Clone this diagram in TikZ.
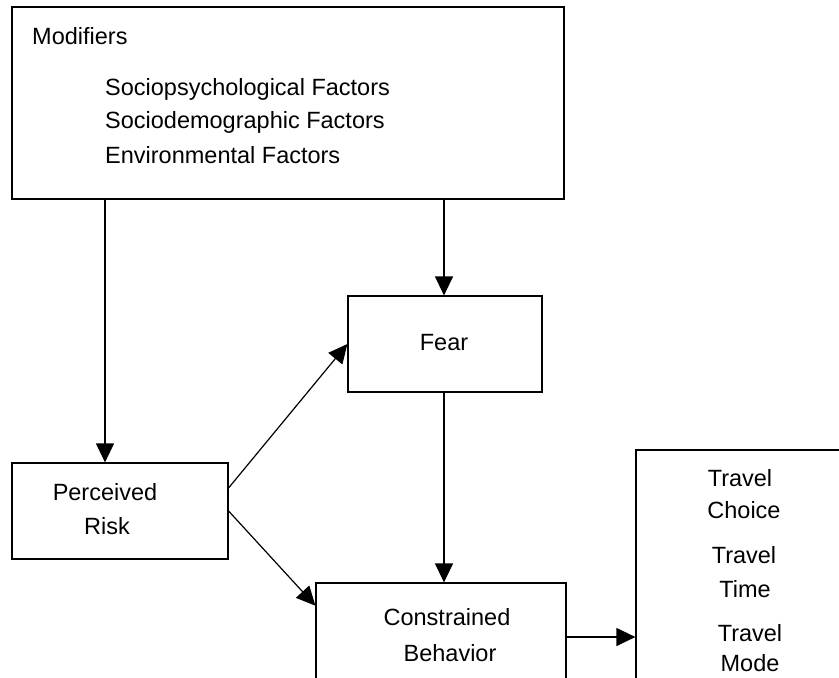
\documentclass[tikz,border=0pt]{standalone}
\usepackage{fontspec}
\setmainfont{Liberation Sans}
\usetikzlibrary{arrows.meta}
\tikzset{box/.style={draw,line width=1.2pt,inner sep=0pt},
  words/.style={font=\fontsize{23.5}{34}\selectfont,inner sep=0pt},
  flow/.style={line width=1.2pt,-{Triangle[length=19pt,width=18pt]}}}

\begin{document}
\begin{tikzpicture}[x=1pt,y=-1pt]
  \useasboundingbox (0,0) rectangle (839,678);
  \clip (0,0) rectangle (839,678);
  %% boxes
  \node[box,minimum width=552pt,minimum height=192pt] (mod) at (288,103) {};
  \node[box,minimum width=194pt,minimum height=96pt] (fear) at (445,344) {};
  \node[box,minimum width=216pt,minimum height=96pt] (risk) at (120,511) {};
  \node[box,minimum width=250pt,minimum height=108pt] (behav) at (441,637) {};
  \node[box,minimum width=210pt,minimum height=270pt] (travel) at (741,585) {};
  %% modifiers
  \node[words,anchor=base west] (modtitle) at (32,44) {Modifiers};
  \node[words,anchor=base west] (psych) at (105,95) {Sociopsychological Factors};
  \node[words,anchor=base west] (demog) at (105,128) {Sociodemographic Factors};
  \node[words,anchor=base west] (envir) at (105,163) {Environmental Factors};
  %% the other texts
  \node[words,anchor=base] (fearw) at (444,350) {Fear};
  \node[words,anchor=base] (perc) at (105,500) {Perceived};
  \node[words,anchor=base] (riskw) at (107,534) {Risk};
  \node[words,anchor=base] (constr) at (447,625) {Constrained};
  \node[words,anchor=base] (behavw) at (450,661) {Behavior};
  \node[words,anchor=base] (tr1) at (740,486) {Travel};
  \node[words,anchor=base] (choice) at (744,518) {Choice};
  \node[words,anchor=base] (tr2) at (744,563) {Travel};
  \node[words,anchor=base] (time) at (745,597) {Time};
  \node[words,anchor=base] (tr3) at (750,641) {Travel};
  \node[words,anchor=base] (mode) at (750,671) {Mode};
  %% arrows
  \draw[flow] (mod.south -| perc) -- (risk.north -| perc);
  \draw[flow] (mod.south -| fearw) -- (fear.north -| fearw);
  \draw[flow] (fear.south -| fearw) -- (behav.north -| fearw);
  \draw[flow] (risk.12.5) -- (fear.west);
  \draw[flow] (risk.east) -- (behav.166);
  \draw[flow] (behav.east) -- (behav.east -| travel.west);
\end{tikzpicture}
\end{document}
